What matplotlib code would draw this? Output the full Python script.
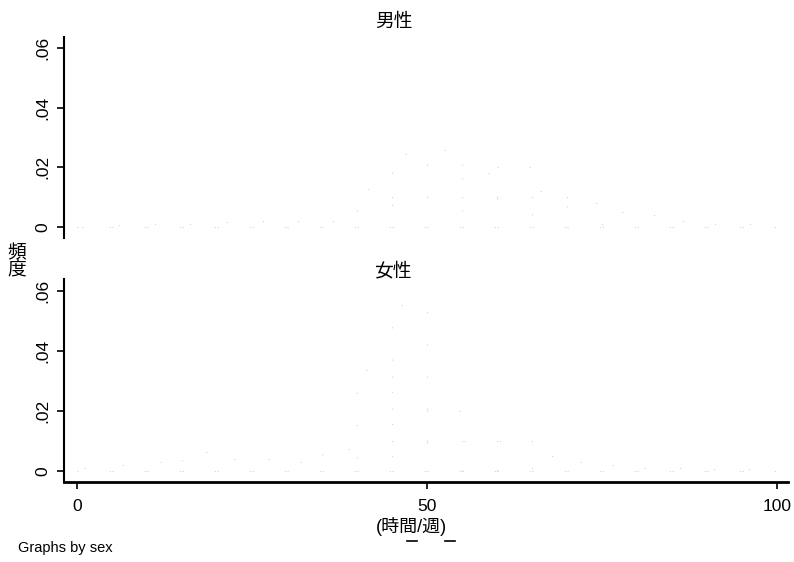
from matplotlib import pyplot as plt
from matplotlib.lines import Line2D
import numpy

plt.rcParams['font.family'] = ['Liberation Sans', 'Noto Sans CJK JP', 'DejaVu Sans']

# histogram of working hours per week, bin width 5 (density)
binLeft = list(range(0, 100, 5))
binWidth = 5
maleDensity = [0.0, 0.0005, 0.001, 0.001, 0.0015, 0.002, 0.002, 0.002, 0.0127, 0.0245,
               0.0258, 0.018, 0.02, 0.012, 0.008, 0.005, 0.004, 0.002, 0.001, 0.001]
femaleDensity = [0.001, 0.002, 0.003, 0.0064, 0.004, 0.004, 0.003, 0.0074, 0.0335, 0.0553,
                 0.02, 0.01, 0.01, 0.005, 0.003, 0.002, 0.001, 0.001, 0.0005, 0.0005]
panelTitles = ["男性", "女性"]
yTicks = [0, 0.02, 0.04, 0.06]
yTickLabels = ["0", ".02", ".04", ".06"]
xTicks = [0, 50, 100]

W, H = 794, 562
fig = plt.figure(figsize=(W / 100, H / 100), dpi=100)

def axFromPixels(left, top, right, bottom):
    return fig.add_axes([left / W, 1 - bottom / H, (right - left) / W, (bottom - top) / H])

topAx = axFromPixels(64, 37, 788, 238)
botAx = axFromPixels(64, 279, 788, 482)

for ax, dens, ylim in [(topAx, maleDensity, (-0.0037, 0.0637)), (botAx, femaleDensity, (-0.0037, 0.064))]:
    # the scanned bars are almost washed out: only faint specks remain
    ax.bar(binLeft, dens, width=binWidth, align='edge', fill=False,
           edgecolor='#d4d4d4', linewidth=0.8, linestyle=(0, (1, 28)))
    ax.set_xlim(-1.86, 101.6)
    ax.set_ylim(*ylim)
    for side in ['top', 'right']:
        ax.spines[side].set_visible(False)
    ax.spines['left'].set_linewidth(1.5)
    ax.set_yticks(yTicks)
    ax.set_yticklabels(yTickLabels, rotation=90, va='center', fontsize=12.5)
    ax.tick_params(axis='y', length=5, width=1.2, pad=5)

topAx.spines['bottom'].set_visible(False)
topAx.set_xticks([])

botAx.spines['bottom'].set_linewidth(2)
botAx.set_xticks(xTicks)
botAx.set_xticklabels([str(t) for t in xTicks], fontsize=12.5)
botAx.tick_params(axis='x', length=5, width=1.2, pad=7)

fig.text(394 / W, 1 - 22 / H, panelTitles[0], ha='center', va='center', fontsize=13.5)
fig.text(393 / W, 1 - 271 / H, panelTitles[1], ha='center', va='center', fontsize=13.5)
fig.text(17 / W, 1 - 262 / H, "頻\n度", ha='center', va='center', fontsize=13.5, linespacing=1.0)
fig.text(411 / W, 1 - 527 / H, "(時間/週)", ha='center', va='center', fontsize=13)
# stray underscore marks below the axis title
for x0, x1 in [(407, 417), (445, 455)]:
    fig.add_artist(Line2D([x0 / W, x1 / W], [1 - 541 / H, 1 - 541 / H], color='black', linewidth=1.2))
fig.text(18 / W, 1 - 548 / H, "Graphs by sex", ha='left', va='center', fontsize=10.5)

plt.savefig("out.png", dpi=100)
